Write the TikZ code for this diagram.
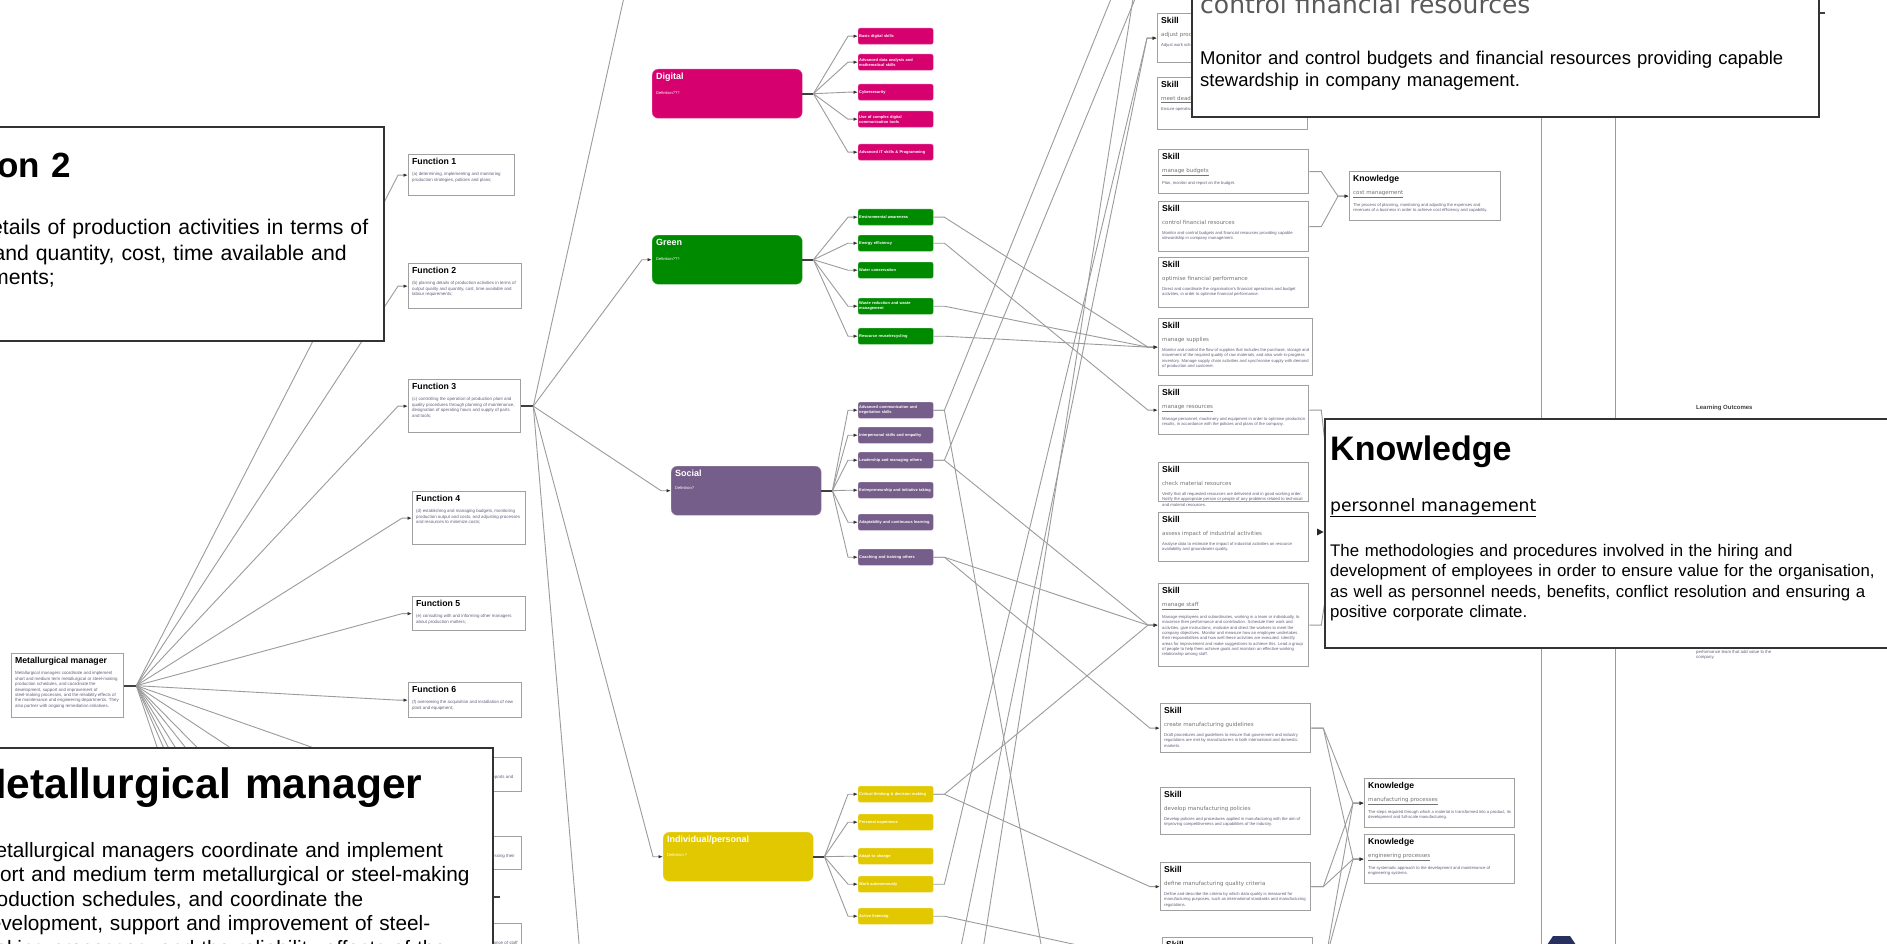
\documentclass[tikz,border=0pt]{standalone}
\usepackage{fontspec}
\setmainfont{Liberation Sans}
\newfontfamily\namefont{DejaVu Sans}
\usetikzlibrary{arrows.meta, positioning, calc}
\hyphenpenalty=10000
\exhyphenpenalty=10000

\definecolor{digital}{RGB}{214,0,111}
\definecolor{greenc}{RGB}{0,138,0}
\definecolor{social}{RGB}{118,94,138}
\definecolor{personal}{RGB}{226,200,0}
\definecolor{desc}{RGB}{100,94,124}
\definecolor{frame}{RGB}{160,160,160}
\definecolor{wire}{RGB}{155,155,155}
\definecolor{navy}{RGB}{40,48,96}

\newcommand{\fs}[2]{\fontsize{#1}{#2}\selectfont}
\newcommand{\cardtext}[3]{\parbox[t][#2][t]{#1}{\raggedright #3}}
\newcommand{\fntext}[2]{{\fs{8.7}{10}\bfseries #1\par}\vspace{6pt}{\fs{4.4}{5.4}\color{desc}#2\par}}
\newcommand{\sktext}[3]{{\fs{8.6}{10}\bfseries #1\par}\vspace{6pt}{\namefont\fs{5.5}{7}\color{black!55}#2\par}\vspace{5pt}{\fs{4.2}{5.3}\color{desc}#3\par}}

\tikzset{%
	card/.style={draw=frame, line width=1.3pt, fill=white, anchor=north west, inner sep=3.5pt},
	area/.style={fill=#1, draw=#1!70!white, rounded corners=6pt, anchor=north west,
		minimum width=150pt, minimum height=49pt},
	tag/.style={fill=#1, draw=#1!70!white, rounded corners=2pt, anchor=north west,
		minimum width=75pt, minimum height=16pt, text width=73pt, inner sep=1pt,
		align=left, text=white, font=\fs{3.95}{5}\bfseries},
	areatitle/.style={anchor=north west, text=white, inner sep=0pt, font=\fs{9}{11}\bfseries},
	areanote/.style={anchor=north west, text=white, inner sep=0pt, font=\fs{4}{5}},
	popup/.style={draw=black!80, line width=1.6pt, fill=white, anchor=north west},
	poptext/.style={anchor=base west, inner sep=0pt, text width=#1, align=left},
	poptext/.default=640pt,
	link/.style={draw=wire, line width=0.9pt, -{Latex[length=4.5pt,width=3.5pt,color=black!80]}},
	wireline/.style={draw=wire, line width=0.9pt},
	stub/.style={draw=black!75, line width=1.8pt},
}

\begin{document}
\begin{tikzpicture}[x=1pt, y=-1pt]
\useasboundingbox (0,0) rectangle (1887,944);
\clip (0,0) rectangle (1887,944);
\fill[white] (0,0) rectangle (1887,944);

% occupation and its functions
\node[card] (mm) at (11,653) {\cardtext{105pt}{57pt}{\fntext{Metallurgical manager}{Metallurgical managers coordinate and implement short and medium term metallurgical or steel-making production schedules, and coordinate the development, support and improvement of steel-making processes, and the reliability effects of the maintenance and engineering departments. They also partner with ongoing remediation initiatives.}}};

\node[card] (f1) at (408,154) {\cardtext{99pt}{34pt}{\fntext{Function 1}{(a) determining, implementing and monitoring production strategies, policies and plans;}}};
\node[card] (f2) at (408,263) {\cardtext{106pt}{38pt}{\fntext{Function 2}{(b) planning details of production activities in terms of output quality and quantity, cost, time available and labour requirements;}}};
\node[card] (f3) at (408,379) {\cardtext{105pt}{46pt}{\fntext{Function 3}{(c) controlling the operation of production plant and quality procedures through planning of maintenance, designation of operating hours and supply of parts and tools;}}};
\node[card] (f4) at (412,491) {\cardtext{106pt}{46pt}{\fntext{Function 4}{(d) establishing and managing budgets, monitoring production output and costs, and adjusting processes and resources to minimize costs;}}};
\node[card] (f5) at (412,596) {\cardtext{106pt}{27pt}{\fntext{Function 5}{(e) consulting with and informing other managers about production matters;}}};
\node[card] (f6) at (408,682) {\cardtext{106pt}{28pt}{\fntext{Function 6}{(f) overseeing the acquisition and installation of new plant and equipment;}}};
\node[card] (f7) at (400,757) {\cardtext{114pt}{27pt}{\fntext{Function 7}{(g) overseeing the preparation of production reports and documents}}};
\node[card] (f8) at (400,836) {\cardtext{114pt}{26pt}{\fntext{Function 8}{(h) identifying business opportunities and assessing their potential}}};
\node[card] (f9) at (400,923) {\cardtext{114pt}{33pt}{\fntext{Function 9}{(i) directing the selection, training and performance of staff}}};
\coordinate (f10) at (408,1015);
\coordinate (f11) at (408,1100);
\coordinate (f12) at (408,1190);
\coordinate (f13) at (408,1280);
\coordinate (f14) at (408,1460);

\coordinate (mmhub) at ([xshift=12pt]mm.east);
\draw[stub] (mm.east) -- (mmhub);
\foreach \t in {f1,f2,f3,f4,f5,f6,f7,f8,f9,f10,f11,f12,f13,f14}
	\draw[link] (mmhub) -- ([xshift=-10pt]\t.west) -- (\t.west);

% skill areas
\node[area=digital] (dig) at (652,69) {};
\node[areatitle] at ([shift={(4,4)}]dig.north west) {Digital};
\node[areanote] at ([shift={(4,22)}]dig.north west) {Definition???};
\node[area=greenc] (grn) at (652,235) {};
\node[areatitle] at ([shift={(4,4)}]grn.north west) {Green};
\node[areanote] at ([shift={(4,22)}]grn.north west) {Definition???};
\node[area=social] (soc) at (671,466) {};
\node[areatitle] at ([shift={(4,4)}]soc.north west) {Social};
\node[areanote] at ([shift={(4,20)}]soc.north west) {Definition?};
\node[area=personal] (ind) at (663,832) {};
\node[areatitle] at ([shift={(4,4)}]ind.north west) {Individual/personal};
\node[areanote] at ([shift={(4,21)}]ind.north west) {Definition ?};

\coordinate (f3hub) at ([xshift=12pt]f3.east);
\draw[stub] (f3.east) -- (f3hub);
\coordinate (top1) at (660,-120);
\coordinate (bot1) at (610,1190);
\foreach \t in {grn,soc,ind,top1,bot1}
	\draw[link] (f3hub) -- ([xshift=-10pt]\t.west) -- (\t.west);

% digital
\node[tag=digital] (d1) at (858,28) {Basic digital skills};
\node[tag=digital] (d2) at (858,54) {Advanced data analysis and mathematical skills};
\node[tag=digital] (d3) at (858,84) {Cybersecurity};
\node[tag=digital] (d4) at (858,111) {Use of complex digital communication tools};
\node[tag=digital] (d5) at (858,144) {Advanced IT skills \& Programming};
% green
\node[tag=greenc] (g1) at (858,209) {Environmental awareness};
\node[tag=greenc] (g2) at (858,235) {Energy efficiency};
\node[tag=greenc] (g3) at (858,262) {Water conservation};
\node[tag=greenc] (g4) at (858,298) {Waste reduction and waste management};
\node[tag=greenc] (g5) at (858,328) {Resource reuse/recycling};
% social
\node[tag=social] (c1) at (858,402) {Advanced communication and negotiation skills};
\node[tag=social] (c2) at (858,427) {Interpersonal skills and empathy};
\node[tag=social] (c3) at (858,452) {Leadership and managing others};
\node[tag=social] (c4) at (858,482) {Entrepreneurship and initiative taking};
\node[tag=social] (c5) at (858,514) {Adaptability and continuous learning};
\node[tag=social] (c6) at (858,549) {Coaching and training others};
% individual
\node[tag=personal] (p1) at (858,786) {Critical thinking \& decision making};
\node[tag=personal] (p2) at (858,814) {Personal experience};
\node[tag=personal] (p3) at (858,848) {Adapt to change};
\node[tag=personal] (p4) at (858,876) {Work autonomously};
\node[tag=personal] (p5) at (858,908) {Active listening};

\foreach \a/\kids in {dig/{d1,d2,d3,d4,d5}, grn/{g1,g2,g3,g4,g5}, soc/{c1,c2,c3,c4,c5,c6}, ind/{p1,p2,p3,p4,p5}} {
	\coordinate (\a hub) at ([xshift=11pt]\a.east);
	\draw[stub] (\a.east) -- (\a hub);
	\foreach \t in \kids
		\draw[link] (\a hub) -- ([xshift=-10pt]\t.west) -- (\t.west);
}

% skills
\node[card] (s1) at (1157,13) {\cardtext{143pt}{42pt}{\sktext{Skill}{adjust production schedule}{Adjust work schedule in order to maintain permanent shift operation.}}};
\node[card] (s2) at (1157,77) {\cardtext{143pt}{45pt}{\sktext{Skill}{\underline{meet deadlines}}{Ensure operative processes are finished at a previously agreed-upon time.}}};
\node[card] (s3) at (1158,149) {\cardtext{143pt}{37pt}{\sktext{Skill}{\underline{manage budgets}}{Plan, monitor and report on the budget.}}};
\node[card] (s4) at (1158,201) {\cardtext{143pt}{43pt}{\sktext{Skill}{control financial resources}{Monitor and control budgets and financial resources providing capable stewardship in company management.}}};
\node[card] (s5) at (1158,257) {\cardtext{143pt}{43pt}{\sktext{Skill}{optimise financial performance}{Direct and coordinate the organisation's financial operations and budget activities, in order to optimise financial performance.}}};
\node[card] (s6) at (1158,318) {\cardtext{147pt}{50pt}{\sktext{Skill}{manage supplies}{Monitor and control the flow of supplies that includes the purchase, storage and movement of the required quality of raw materials, and also work-in-progress inventory. Manage supply chain activities and synchronise supply with demand of production and customer.}}};
\node[card] (s7) at (1158,385) {\cardtext{143pt}{42pt}{\sktext{Skill}{\underline{manage resources}}{Manage personnel, machinery and equipment in order to optimise production results, in accordance with the policies and plans of the company.}}};
\node[card] (s8) at (1158,462) {\cardtext{143pt}{32pt}{\sktext{Skill}{check material resources}{Verify that all requested resources are delivered and in good working order. Notify the appropriate person or people of any problems related to technical and material resources.}}};
\node[card] (s9) at (1158,512) {\cardtext{143pt}{42pt}{\sktext{Skill}{assess impact of industrial activities}{Analyse data to estimate the impact of industrial activities on resource availability and groundwater quality.}}};
\node[card] (s10) at (1158,583) {\cardtext{143pt}{76pt}{\sktext{Skill}{\underline{manage staff}}{Manage employees and subordinates, working in a team or individually, to maximise their performance and contribution. Schedule their work and activities, give instructions, motivate and direct the workers to meet the company objectives. Monitor and measure how an employee undertakes their responsibilities and how well these activities are executed. Identify areas for improvement and make suggestions to achieve this. Lead a group of people to help them achieve goals and maintain an effective working relationship among staff.}}};
\node[card] (s11) at (1160,703) {\cardtext{143pt}{42pt}{\sktext{Skill}{create manufacturing guidelines}{Draft procedures and guidelines to ensure that government and industry regulations are met by manufacturers in both international and domestic markets.}}};
\node[card] (s12) at (1160,787) {\cardtext{143pt}{40pt}{\sktext{Skill}{develop manufacturing policies}{Develop policies and procedures applied in manufacturing with the aim of improving competitiveness and capabilities of the industry.}}};
\node[card] (s13) at (1160,862) {\cardtext{143pt}{41pt}{\sktext{Skill}{define manufacturing quality criteria}{Define and describe the criteria by which data quality is measured for manufacturing purposes, such as international standards and manufacturing regulations.}}};
\node[card] (s14) at (1162,937) {\cardtext{143pt}{40pt}{\sktext{Skill}{monitor plant production}{Monitor plant processes for efficiency.}}};
\coordinate (sa) at (1157,-90);
\coordinate (sb) at (1157,-30);
\coordinate (sc) at (1157,1530);
\coordinate (low1) at (950,1000);
\coordinate (low2) at (975,1000);

% knowledge
\node[card] (k1) at (1349,171) {\cardtext{144pt}{42pt}{\sktext{Knowledge}{\underline{cost management}}{The process of planning, monitoring and adjusting the expenses and revenues of a business in order to achieve cost efficiency and capability.}}};
\node[card] (k2) at (1364,778) {\cardtext{143pt}{42pt}{\sktext{Knowledge}{\underline{manufacturing processes}}{The steps required through which a material is transformed into a product, its development and full-scale manufacturing.}}};
\node[card] (k3) at (1364,834) {\cardtext{143pt}{42pt}{\sktext{Knowledge}{\underline{engineering processes}}{The systematic approach to the development and maintenance of engineering systems.}}};
\node[card] (k4) at (1346,508) {\cardtext{143pt}{42pt}{\sktext{Knowledge}{\underline{personnel management}}{The methodologies and procedures involved in the hiring and development of employees.}}};

% soft skills to skills
\foreach \a/\b in {g1/s6, g2/s7, g4/s6, g5/s6, c1/sa, c1/sc, c3/sb, c3/s10, c6/s10, c6/s11,
	p1/s10, p1/s13, p4/s1, p5/s14}
	\draw[link] (\a.east) -- ++(11,0) -- ([xshift=-10pt]\b.west) -- (\b.west);
\draw[link] (low1) -- ([xshift=-10pt]s1.west) -- (s1.west);
\draw[link] (low2) -- ([xshift=-10pt]sa.west) -- (sa.west);

% skills to knowledge
\foreach \a/\b in {s3/k1, s4/k1, s7/k4, s10/k4, s11/k2, s11/k3, s13/k2, s13/k3, s14/k2, s14/k3}
	\draw[link] (\a.east) -- ++(12,0) -- ([xshift=-11pt]\b.west) -- (\b.west);

% learning outcomes column
\coordinate (lo1a) at (1541,116);
\coordinate (lo1b) at (1541,944);
\coordinate (lo2a) at (1615,116);
\coordinate (lo2b) at (1615,944);
\draw[wireline] (lo1a) -- (lo1b);
\draw[wireline] (lo2a) -- (lo2b);
\node[anchor=west, inner sep=0pt, font=\fs{6}{7}\bfseries, text=black!75] (lohead) at (1696,408) {Learning Outcomes};
\node[anchor=north west, inner sep=0pt, align=left, font=\fs{4.3}{5.6}, text=desc] (lotext) at (1696,650) {performance team that add value to the\\company.};

% zoomed cards on top
\node[popup, minimum width=523pt, minimum height=214pt] (pf2) at (-140,126) {};
\node[poptext, font=\fs{35}{40}\bfseries] at (-108,178) {Function 2};
\node[poptext, font=\fs{21.2}{25}] at (-141,235)
	{(b) planning details of production activities in terms of\\output quality and quantity, cost, time available and\\labour requirements;};

\node[popup, minimum width=530pt, minimum height=260pt] (pmm) at (-38,747) {};
\node[poptext, font=\fs{42.5}{46}\bfseries] at (-29,798) {Metallurgical manager};
\node[poptext, font=\fs{20.8}{24.5}] at (-22,857)
	{Metallurgical managers coordinate and implement\\short and medium term metallurgical or steel-making\\production schedules, and coordinate the\\development, support and improvement of steel-\\making processes, and the reliability effects of the\\maintenance and engineering departments.};
\draw[stub] (pmm.east |- 0,897) -- ++(6,0);

\node[popup, minimum width=627pt, minimum height=140pt] (pcfr) at (1191,-24) {};
\node[poptext, font=\namefont\fs{25}{28}, text=black!65] at (1200,14) {control financial resources};
\node[poptext, font=\fs{18.5}{22}] at (1200,65)
	{Monitor and control budgets and financial resources providing capable\\stewardship in company management.};
\draw[stub] (pcfr.east |- 0,13) -- ++(5,0);

\node[popup, minimum width=600pt, minimum height=229pt] (ppm) at (1324,418) {};
\fill[black!85] (1317,528.5) -- (1323.5,532) -- (1317,535.5) -- cycle;
\node[poptext, font=\fs{34}{38}\bfseries] at (1330,460) {Knowledge};
\node[poptext, font=\namefont\fs{17.2}{20}] at (1330,511) {\underline{personnel management}};
\node[poptext, font=\fs{16.8}{20.5}] at (1330,556)
	{The methodologies and procedures involved in the hiring and\\development of employees in order to ensure value for the organisation,\\as well as personnel needs, benefits, conflict resolution and ensuring a\\positive corporate climate.};

% corner button
\fill[navy] (1547,945) -- (1553,936) -- (1570,936) -- (1576,945) -- cycle;
\end{tikzpicture}
\end{document}
